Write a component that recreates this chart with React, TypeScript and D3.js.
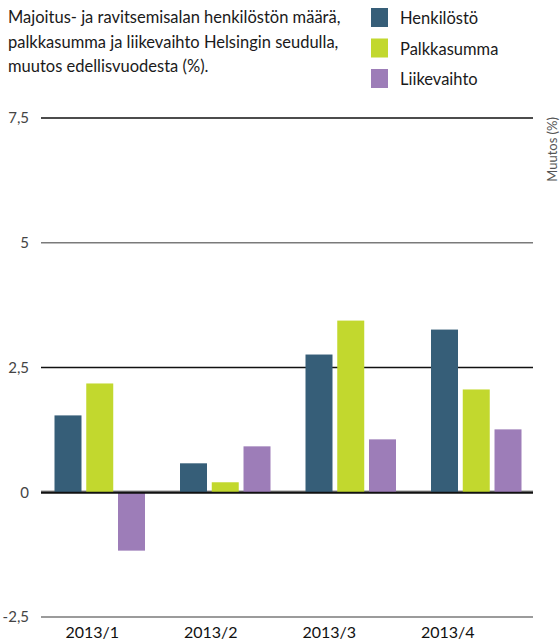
import { useEffect, useRef } from "react";
import * as d3 from "d3";

const quarters = ["2013/1", "2013/2", "2013/3", "2013/4"];
const seriesNames = ["Henkilöstö", "Palkkasumma", "Liikevaihto"];
const henkilosto = [1.54, 0.58, 2.76, 3.26];
const palkkasumma = [2.18, 0.2, 3.44, 2.06];
const liikevaihto = [-1.17, 0.92, 1.06, 1.26];
const yTicks = [-2.5, 0, 2.5, 5, 7.5];
const titleLines = [
  "Majoitus- ja ravitsemisalan henkilöstön määrä,",
  "palkkasumma ja liikevaihto Helsingin seudulla,",
  "muutos edellisvuodesta (%).",
];

const colors = ["#365e78", "#c2d82e", "#9d7db8"];
const font = "Lato, 'Open Sans', sans-serif";

export default function App() {
  const ref = useRef<SVGSVGElement>(null);

  useEffect(() => {
    const svg = d3.select(ref.current);
    svg.selectAll("*").remove();

    const values = [henkilosto, palkkasumma, liikevaihto];

    const y = d3.scaleLinear().domain([-2.5, 7.5]).range([617, 118]);
    const x0 = d3.scaleBand().domain(quarters).range([37, 539]);
    const x1 = d3
      .scaleBand()
      .domain(seriesNames)
      .range([17.5, 108])
      .paddingInner(0.15);
    // the quarter labels sit a bit left of their bar groups
    const xLabel = d3.scaleBand().domain(quarters).range([33, 507]);

    // title
    svg
      .append("g")
      .selectAll("text")
      .data(titleLines)
      .enter()
      .append("text")
      .attr("x", 8)
      .attr("y", (_, i) => 23 + i * 24.5)
      .attr("font-family", font)
      .attr("font-size", 16.5)
      .attr("fill", "#1a1a1a")
      .text((d) => d);

    // legend
    const legend = svg
      .append("g")
      .selectAll("g")
      .data(seriesNames)
      .enter()
      .append("g")
      .attr("transform", (_, i) => `translate(371,${8 + i * 30.5})`);
    legend
      .append("rect")
      .attr("width", 17)
      .attr("height", 19)
      .attr("fill", (_, i) => colors[i]);
    legend
      .append("text")
      .attr("x", 29)
      .attr("y", 16)
      .attr("font-family", font)
      .attr("font-size", 16.5)
      .attr("fill", "#1a1a1a")
      .text((d) => d);

    // grid
    const gridColor = (t: number) => (t === 5 || t === -2.5 ? "#7a7a7a" : "#111");
    svg
      .append("line")
      .attr("x1", 41)
      .attr("x2", 533)
      .attr("y1", y(0) - 1.5)
      .attr("y2", y(0) - 1.5)
      .attr("stroke", "#c8c8c8")
      .attr("stroke-width", 1.5);
    const grid = svg.append("g");
    grid
      .selectAll("line")
      .data(yTicks)
      .enter()
      .append("line")
      .attr("x1", 41)
      .attr("x2", 533)
      .attr("y1", (d) => y(d))
      .attr("y2", (d) => y(d))
      .attr("stroke", (d) => gridColor(d))
      .attr("stroke-width", 1.5);
    grid
      .selectAll("text")
      .data(yTicks)
      .enter()
      .append("text")
      .attr("x", 29)
      .attr("y", (d) => y(d))
      .attr("dy", "0.35em")
      .attr("text-anchor", "end")
      .attr("font-family", font)
      .attr("font-size", 15)
      .attr("fill", "#444")
      .text((d) => String(d).replace(".", ","));

    // bars
    const groups = svg
      .append("g")
      .selectAll("g")
      .data(quarters)
      .enter()
      .append("g")
      .attr("transform", (d) => `translate(${x0(d)},0)`);
    groups
      .selectAll("rect")
      .data((_, qi) => seriesNames.map((s, si) => ({ s, si, v: values[si][qi] })))
      .enter()
      .append("rect")
      .attr("x", (d) => x1(d.s)!)
      .attr("width", x1.bandwidth())
      .attr("y", (d) => y(Math.max(0, d.v)))
      .attr("height", (d) => Math.abs(y(d.v) - y(0)))
      .attr("fill", (d) => colors[d.si]);

    // zero line on top
    svg
      .append("line")
      .attr("x1", 41)
      .attr("x2", 533)
      .attr("y1", y(0) + 0.5)
      .attr("y2", y(0) + 0.5)
      .attr("stroke", "#111")
      .attr("stroke-width", 2);

    // category labels
    svg
      .append("g")
      .selectAll("text")
      .data(quarters)
      .enter()
      .append("text")
      .attr("x", (d) => xLabel(d)! + xLabel.bandwidth() / 2)
      .attr("y", 638)
      .attr("text-anchor", "middle")
      .attr("font-family", font)
      .attr("font-size", 16)
      .attr("fill", "#111")
      .text((d) => d);

    // y axis title
    svg
      .append("text")
      .attr("transform", "translate(557,117) rotate(-90)")
      .attr("text-anchor", "end")
      .attr("font-family", font)
      .attr("font-size", 13)
      .attr("fill", "#555")
      .text("Muutos (%)");
  }, []);

  return (
    <svg
      ref={ref}
      width={560}
      height={640}
      style={{ position: "absolute", left: 0, top: 0, background: "#fff" }}
    ></svg>
  );
}
